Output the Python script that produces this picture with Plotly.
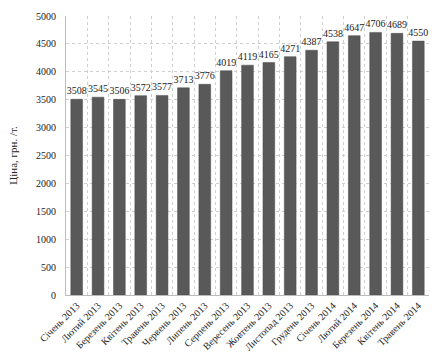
import plotly.graph_objects as go

months = ["Січень 2013", "Лютий 2013", "Березень 2013", "Квітень 2013", "Травень 2013",
          "Червень 2013", "Липень 2013", "Серпень 2013", "Вересень 2013", "Жовтень 2013",
          "Листопад 2013", "Грудень 2013", "Січень 2014", "Лютий 2014", "Березень 2014",
          "Квітень 2014", "Травень 2014"]
prices = [3508, 3545, 3506, 3572, 3577, 3713, 3776, 4019, 4119, 4165, 4271, 4387,
          4538, 4647, 4706, 4689, 4550]
y_ticks = [0, 500, 1000, 1500, 2000, 2500, 3000, 3500, 4000, 4500, 5000]

xpos = list(range(len(months)))
font = "Liberation Serif, Times New Roman, serif"

fig = go.Figure(go.Bar(
    x=xpos, y=prices, width=0.55,
    marker=dict(color="#595959", line=dict(color="#4a4a4a", width=0.5)),
    text=[str(p) for p in prices], textposition="outside",
    textfont=dict(family=font, size=10, color="#222"),
    constraintext="none",
    cliponaxis=False,
))

fig.update_layout(
    width=432, height=358,
    margin=dict(l=66, r=3, t=16, b=63, autoexpand=False),
    paper_bgcolor="white", plot_bgcolor="white",
    showlegend=False,
    font=dict(family=font, color="#222"),
)
fig.update_xaxes(
    range=[-0.5, len(months) - 0.5],
    tickmode="array", tickvals=xpos, ticktext=months,
    tickangle=-45, tickfont=dict(family=font, size=10, color="#222"),
    showgrid=False, showline=True, linecolor="#bbbbbb", linewidth=1,
    ticks="", zeroline=False, automargin=False,
    minor=dict(tickmode="linear", tick0=-0.5, dtick=1, showgrid=True,
               gridcolor="#cfcfcf", griddash="dot", gridwidth=1),
)
fig.update_yaxes(
    range=[0, 5000], tickmode="array", tickvals=y_ticks,
    tickfont=dict(family=font, size=10, color="#222"),
    showgrid=True, gridcolor="#cfcfcf", griddash="dot", gridwidth=1,
    showline=True, linecolor="#bbbbbb", linewidth=1, zeroline=False,
    ticks="", ticklen=0, automargin=False, ticklabelstandoff=7,
    title=dict(text="Ціна, грн. /т.", font=dict(family=font, size=11, color="#222"), standoff=16),
)

fig.write_html("out.html", config={"displayModeBar": False},
               post_script="document.body.style.margin='0';document.body.style.overflow='hidden';")
